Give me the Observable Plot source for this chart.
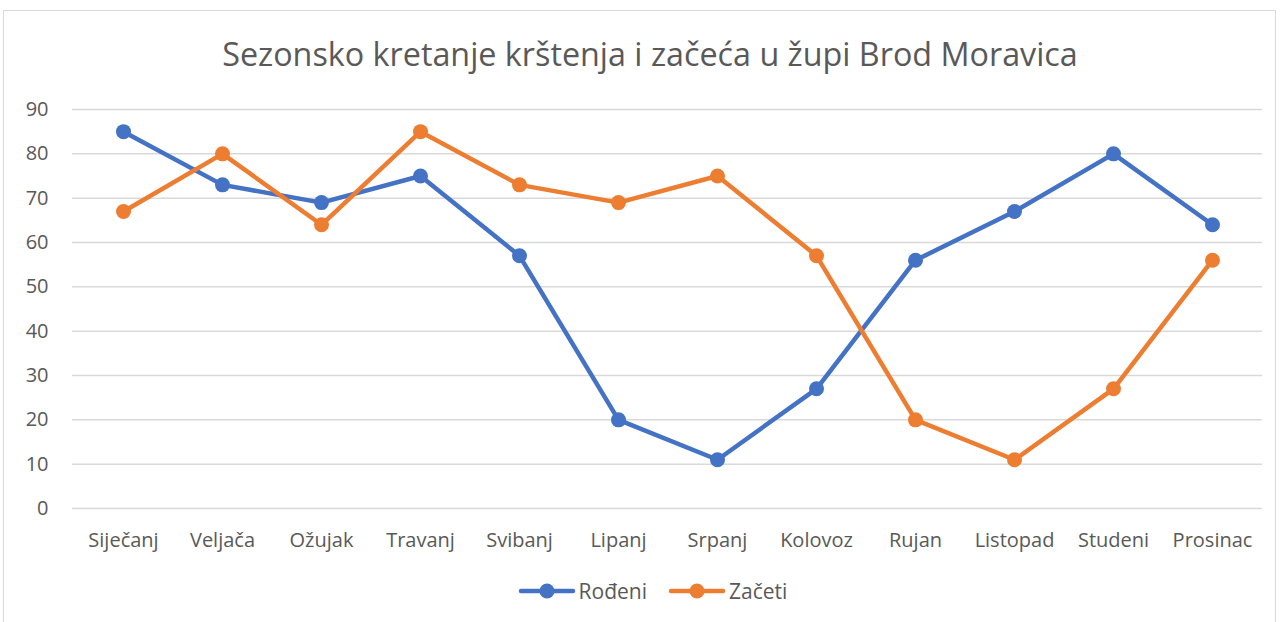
<!DOCTYPE html>
<html>
<head>
<meta charset="utf-8">
<script src="https://cdn.jsdelivr.net/npm/d3@7"></script>
<script src="https://cdn.jsdelivr.net/npm/@observablehq/plot@0.6"></script>
<style>
  html, body { margin: 0; padding: 0; background: #fff; }
  body { width: 1280px; height: 622px; position: relative; overflow: hidden; font-family: "Open Sans", "Noto Sans", sans-serif; }
  #frame { position: absolute; left: 3px; top: 10px; width: 1273px; height: 620px; border: 1px solid #d9d9d9; box-sizing: border-box; }
  #title { position: absolute; left: 20px; top: 31px; width: 1260px; text-align: center; font-size: 32.3px; color: #595959; }
  #chart { position: absolute; left: 0; top: 0; }
  #legend { position: absolute; top: 577px; left: 25px; width: 1255px; display: flex; justify-content: center; gap: 21px; font-size: 21px; color: #595959; }
  .item { display: flex; align-items: center; gap: 3px; }
</style>
</head>
<body>
<div id="frame"></div>
<div id="chart"></div>
<div id="title">Sezonsko kretanje krštenja i začeća u župi Brod Moravica</div>
<div id="legend"></div>
<script>
const months = ["Siječanj","Veljača","Ožujak","Travanj","Svibanj","Lipanj","Srpanj","Kolovoz","Rujan","Listopad","Studeni","Prosinac"];
const rodeni = [85, 73, 69, 75, 57, 20, 11, 27, 56, 67, 80, 64];
const zaceti = [67, 80, 64, 85, 73, 69, 75, 57, 20, 11, 27, 56];
const seriesNames = ["Rođeni", "Začeti"];
const colors = ["#4472C4", "#ED7D31"];
const yTicks = [0,10,20,30,40,50,60,70,80,90];

const data = [];
months.forEach((m, i) => {
  data.push({month: m, value: rodeni[i], series: seriesNames[0]});
});
months.forEach((m, i) => {
  data.push({month: m, value: zaceti[i], series: seriesNames[1]});
});

const chart = Plot.plot({
  width: 1280,
  height: 622,
  marginLeft: 72,
  marginRight: 18,
  marginTop: 109,
  marginBottom: 114,
  style: {fontFamily: '"Open Sans", "Noto Sans", sans-serif', fontSize: "20px", color: "#595959", background: "transparent", overflow: "visible"},
  x: {type: "point", domain: months, padding: 0.5, label: null},
  y: {domain: [0, 90], label: null},
  color: {domain: seriesNames, range: colors},
  marks: [
    Plot.gridY(yTicks, {stroke: "#d9d9d9", strokeOpacity: 1, strokeWidth: 1.5}),
    Plot.axisY(yTicks, {tickSize: 0, tickPadding: 24, fontSize: 20, fill: "#595959", label: null}),
    Plot.axisX(months, {tickSize: 0, tickPadding: 24, fontSize: 20, fill: "#595959", label: null}),
    Plot.line(data, {x: "month", y: "value", z: "series", stroke: "series", strokeWidth: 4.5, strokeLinejoin: "round", strokeLinecap: "round"}),
    Plot.dot(data, {x: "month", y: "value", fill: "series", r: 7.5})
  ]
});
document.getElementById("chart").appendChild(chart);

const legend = document.getElementById("legend");
seriesNames.forEach((name, i) => {
  const item = document.createElement("div");
  item.className = "item";
  item.innerHTML = `<svg width="58" height="20"><line x1="3" y1="10" x2="55" y2="10" stroke="${colors[i]}" stroke-width="4.5" stroke-linecap="round"/><circle cx="29" cy="10" r="7.5" fill="${colors[i]}"/></svg><span>${name}</span>`;
  legend.appendChild(item);
});
</script>
</body>
</html>
